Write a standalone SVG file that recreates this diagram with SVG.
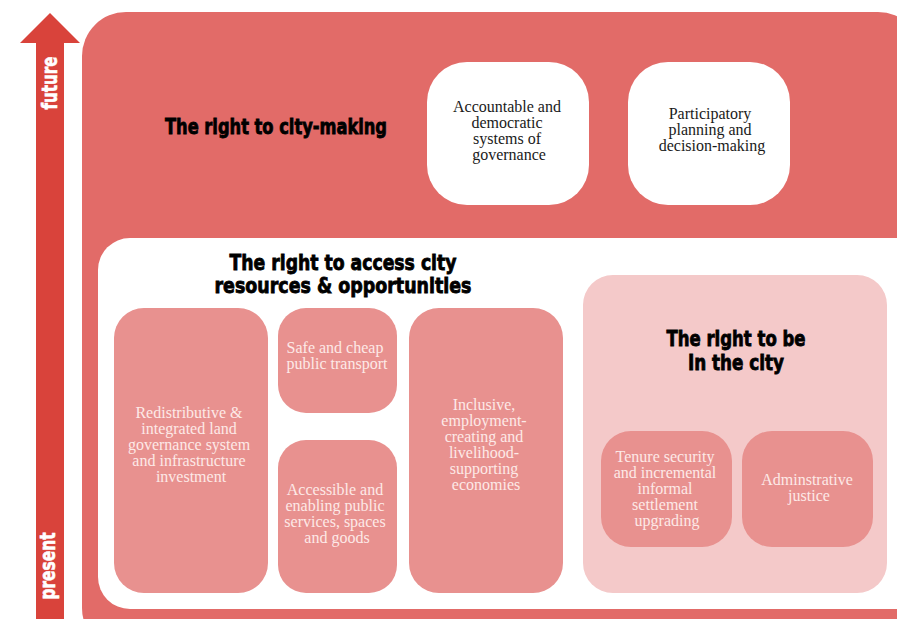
<svg xmlns="http://www.w3.org/2000/svg" width="897" height="619" viewBox="0 0 897 619">
  <style>
    .head { font-family: "Liberation Sans Narrow", "DejaVu Sans Condensed", "Liberation Sans", sans-serif; font-weight: bold; font-size: 22px; fill: #000; stroke: #000; stroke-width: 0.8px; text-anchor: middle; }
    .axis { font-family: "Liberation Sans Narrow", "DejaVu Sans Condensed", "Liberation Sans", sans-serif; font-weight: bold; font-size: 21px; fill: #fff; stroke: #fff; stroke-width: 0.6px; text-anchor: middle; }
    .lbl { font-family: "Liberation Serif", "DejaVu Serif", serif; font-size: 16px; text-anchor: middle; }
    .dark { fill: #1a1a1a; }
    .light { fill: #fde9e7; }
    .white-box { fill: #ffffff; }
    .mid-box { fill: #e8918f; }
    .pale-box { fill: #f4c9c9; }
  </style>

  <rect width="897" height="619" fill="#ffffff"/>

  <!-- time axis: present (bottom) to future (top) -->
  <g id="connectors">
    <path d="M36 619 V43 H20 L50 13 L80 43 H64 V619 Z" fill="#d9433b"/>
    <text class="axis" transform="translate(57 83) rotate(-90)" textLength="53" lengthAdjust="spacingAndGlyphs">future</text>
    <text class="axis" transform="translate(55 566) rotate(-90)" textLength="67" lengthAdjust="spacingAndGlyphs">present</text>
  </g>

  <!-- outer tier -->
  <g id="city-making">
    <rect x="82" y="12" width="840" height="640" rx="44" fill="#e26b68"/>
    <text class="head" x="276" y="134" textLength="222" lengthAdjust="spacingAndGlyphs">The right to city-making</text>
  </g>

  <g id="accountable-governance">
    <rect class="white-box" x="427" y="62" width="162" height="143" rx="40"/>
    <text class="lbl dark">
      <tspan x="509" y="112">Accountable and</tspan>
      <tspan x="509" y="128">democratic</tspan>
      <tspan x="509" y="144">systems of</tspan>
      <tspan x="509" y="160">governance</tspan>
    </text>
  </g>

  <g id="participatory-planning">
    <rect class="white-box" x="628" y="62" width="162" height="143" rx="40"/>
    <text class="lbl dark">
      <tspan x="712" y="119">Participatory</tspan>
      <tspan x="712" y="135">planning and</tspan>
      <tspan x="712" y="151">decision-making</tspan>
    </text>
  </g>

  <!-- middle tier -->
  <g id="access-resources">
    <rect x="98" y="238" width="830" height="371" rx="32" fill="#ffffff"/>
    <text class="head" x="343" y="270" textLength="227" lengthAdjust="spacingAndGlyphs">The right to access city</text>
    <text class="head" x="343" y="293" textLength="257" lengthAdjust="spacingAndGlyphs">resources &amp; opportunities</text>
  </g>

  <g id="land-governance">
    <rect class="mid-box" x="114" y="308" width="154" height="285" rx="30"/>
    <text class="lbl light">
      <tspan x="191" y="418">Redistributive &amp;</tspan>
      <tspan x="191" y="434">integrated land</tspan>
      <tspan x="191" y="450">governance system</tspan>
      <tspan x="191" y="466">and infrastructure</tspan>
      <tspan x="191" y="482">investment</tspan>
    </text>
  </g>

  <g id="public-transport">
    <rect class="mid-box" x="278" y="308" width="119" height="105" rx="28"/>
    <text class="lbl light">
      <tspan x="337" y="353">Safe and cheap</tspan>
      <tspan x="337" y="369">public transport</tspan>
    </text>
  </g>

  <g id="public-services">
    <rect class="mid-box" x="278" y="440" width="119" height="153" rx="28"/>
    <text class="lbl light">
      <tspan x="337" y="495">Accessible and</tspan>
      <tspan x="337" y="511">enabling public</tspan>
      <tspan x="337" y="527">services, spaces</tspan>
      <tspan x="337" y="543">and goods</tspan>
    </text>
  </g>

  <g id="inclusive-economies">
    <rect class="mid-box" x="409" y="308" width="154" height="285" rx="30"/>
    <text class="lbl light">
      <tspan x="486" y="410">Inclusive,</tspan>
      <tspan x="486" y="426">employment-</tspan>
      <tspan x="486" y="442">creating and</tspan>
      <tspan x="486" y="458">livelihood-</tspan>
      <tspan x="486" y="474">supporting</tspan>
      <tspan x="486" y="490">economies</tspan>
    </text>
  </g>

  <!-- inner tier -->
  <g id="be-in-city">
    <rect class="pale-box" x="583" y="275" width="304" height="318" rx="30"/>
    <text class="head" x="736" y="346" textLength="139" lengthAdjust="spacingAndGlyphs">The right to be</text>
    <text class="head" x="736" y="370" textLength="96" lengthAdjust="spacingAndGlyphs">In the city</text>
  </g>

  <g id="tenure-security">
    <rect class="mid-box" x="601" y="431" width="131" height="116" rx="30"/>
    <text class="lbl light">
      <tspan x="667" y="462">Tenure security</tspan>
      <tspan x="667" y="478">and incremental</tspan>
      <tspan x="667" y="494">informal</tspan>
      <tspan x="667" y="510">settlement</tspan>
      <tspan x="667" y="526">upgrading</tspan>
    </text>
  </g>

  <g id="administrative-justice">
    <rect class="mid-box" x="742" y="431" width="131" height="116" rx="30"/>
    <text class="lbl light">
      <tspan x="809" y="485">Adminstrative</tspan>
      <tspan x="809" y="501">justice</tspan>
    </text>
  </g>
</svg>
